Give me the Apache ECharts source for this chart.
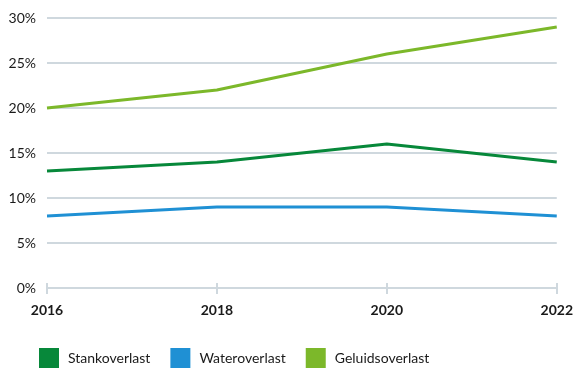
<!DOCTYPE html>
<html>
<head>
<meta charset="utf-8">
<script src="https://cdn.jsdelivr.net/npm/echarts@6/dist/echarts.min.js"></script>
<style>
html,body{margin:0;padding:0;background:#fff;}
#chart{width:576px;height:369px;}
</style>
</head>
<body>
<div id="chart"></div>
<script>
// Jaren en percentages per soort overlast
const years = [2016, 2018, 2020, 2022];
const stankoverlast = [13, 14, 16, 14];
const wateroverlast = [8, 9, 9, 8];
const geluidsoverlast = [20, 22, 26, 29];
const yTicks = [0, 5, 10, 15, 20, 25, 30];

const colors = { stank: '#07883a', water: '#1f90d4', geluid: '#7cb82a' };
const font = 'Lato, "Open Sans", sans-serif';
const gridColor = '#cfd8de';

const pair = (vals) => years.map((y, i) => [y, vals[i]]);

const xBase = {
  type: 'value',
  min: years[0], max: years[years.length - 1], interval: 2,
  splitLine: { show: false }
};

const chart = echarts.init(document.getElementById('chart'));
chart.setOption({
  animation: false,
  grid: { left: 47, right: 17, top: 18, bottom: 81 },
  xAxis: [
    Object.assign({}, xBase, {
      axisLine: { show: true, lineStyle: { color: gridColor, width: 2 } },
      axisTick: { show: true, length: 6, lineStyle: { color: gridColor, width: 2 } },
      axisLabel: { color: '#1a1a1a', fontFamily: font, fontWeight: 'bold', fontSize: 14, margin: 15,
        formatter: v => years.includes(v) ? String(v) : '' }
    }),
    // upper half of the tick marks, drawn inside the plot
    Object.assign({}, xBase, {
      position: 'bottom',
      axisLine: { show: false },
      axisTick: { show: true, inside: true, length: 5, lineStyle: { color: gridColor, width: 2 } },
      axisLabel: { show: false }
    })
  ],
  yAxis: {
    type: 'value',
    min: yTicks[0], max: yTicks[yTicks.length - 1], interval: 5,
    axisLine: { show: false },
    axisTick: { show: false },
    splitLine: { lineStyle: { color: gridColor, width: 2 } },
    axisLabel: { color: '#1a1a1a', fontFamily: font, fontSize: 14, margin: 11, formatter: '{value}%' }
  },
  legend: {
    bottom: 1, left: 39, padding: 0,
    itemWidth: 20, itemHeight: 20, itemGap: 20,
    icon: 'rect',
    textStyle: { color: '#1a1a1a', fontFamily: font, fontSize: 14, padding: [0, 0, 0, 4] },
    data: ['Stankoverlast', 'Wateroverlast', 'Geluidsoverlast']
  },
  series: [
    { name: 'Stankoverlast', type: 'line', data: pair(stankoverlast), color: colors.stank,
      showSymbol: false, lineStyle: { width: 3 } },
    { name: 'Wateroverlast', type: 'line', data: pair(wateroverlast), color: colors.water,
      showSymbol: false, lineStyle: { width: 3 } },
    { name: 'Geluidsoverlast', type: 'line', data: pair(geluidsoverlast), color: colors.geluid,
      showSymbol: false, lineStyle: { width: 3 } }
  ]
});
</script>
</body>
</html>
